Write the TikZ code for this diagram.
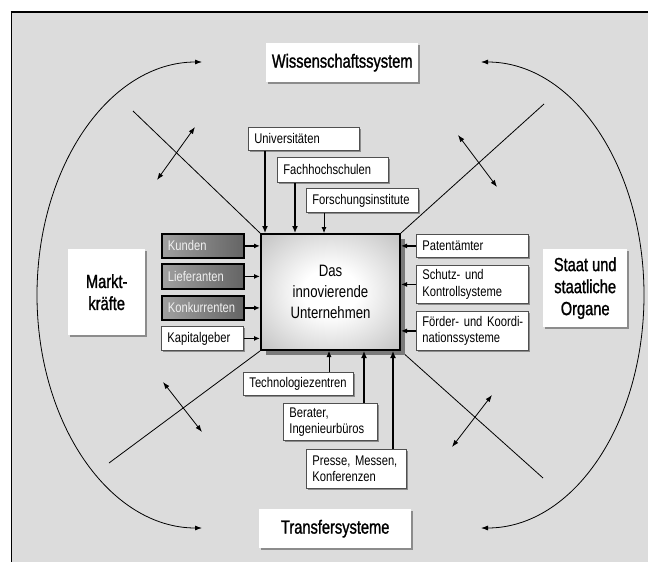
\documentclass[tikz,border=0pt]{standalone}
\usepackage{fontspec}
\setmainfont{Liberation Sans}[FakeStretch=0.8]
\newfontfamily\outerfont{Liberation Sans}[FakeStretch=0.77,FakeBold=1.2]
\usetikzlibrary{arrows.meta,shadows,backgrounds}
\definecolor{bg}{HTML}{DCDCDC}
\definecolor{edge}{HTML}{505050}
\definecolor{shd}{HTML}{8C8C8C}
\definecolor{dkA}{HTML}{A0A0A0}
\definecolor{dkB}{HTML}{646464}
\definecolor{ctrE}{HTML}{A0A0A0}
\definecolor{ctrC}{HTML}{888888}
\definecolor{ctrS}{HTML}{7A7A7A}
\pgfdeclareradialshading{ctrshade}{\pgfpoint{0bp}{0bp}}{color(0bp)=(white); color(10bp)=(white); color(50bp)=(ctrE); color(72bp)=(ctrC)}
\tikzset{
  sz/.style n args={3}{minimum width=#1pt, minimum height=#2pt, text width=#3pt},
  obox/.style={fill=white, draw=none, anchor=north west, inner sep=0pt, align=center,
    drop shadow={shadow xshift=2pt, shadow yshift=-2pt, fill=shd, opacity=1},
    font=\outerfont\fontsize{19}{22}\selectfont},
  wbox/.style={fill=white, draw=edge, line width=0.8pt, anchor=north west,
    inner xsep=6pt, inner ysep=0pt, align=left,
    drop shadow={shadow xshift=2pt, shadow yshift=-2pt, fill=shd, opacity=1},
    font=\fontsize{14}{16.5}\selectfont},
  dbox/.style={left color=dkA, right color=dkB, draw=black, line width=1.8pt, anchor=north west,
    inner xsep=6pt, inner ysep=0pt, align=left, text=white!94!black,
    font=\fontsize{14}{16.5}\selectfont},
  thin/.style={line width=0.8pt},
  arr/.style={line width=1.5pt, -{Latex[length=6pt,width=5pt]}},
  thinarr/.style={line width=0.8pt, -{Latex[length=6pt,width=5pt]}},
  thickarr/.style={line width=2pt, -{Latex[length=7pt,width=6pt]}},
  dblarr/.style={line width=0.8pt, {Latex[length=7pt,width=5pt]}-{Latex[length=7pt,width=5pt]}}
}
\begin{document}
\begin{tikzpicture}[x=1pt, y=-1pt]
\useasboundingbox (0,0) rectangle (648,562);
% outer boxes
\node[obox, minimum width=152pt, minimum height=39pt] (wiss) at (266,43) {Wissenschaftssystem};
\node[obox, minimum width=77pt, minimum height=86pt] (markt) at (68,249) {Markt-\\kräfte};
\node[obox, minimum width=84pt, minimum height=78pt] (staat) at (543,249) {Staat und\\staatliche\\Organe};
\node[obox, minimum width=152pt, minimum height=39pt] (trans) at (259,509) {Transfersysteme};
% centre
\node[draw=black, line width=2pt, shade, shading=ctrshade, anchor=north west, inner sep=0pt,
  drop shadow={shadow xshift=5pt, shadow yshift=-5pt, fill=ctrS, opacity=1},
  minimum width=139pt, minimum height=116pt, align=center,
  font=\fontsize{16.5}{21}\selectfont] (center) at (260,233) {Das\\innovierende\\Unternehmen};
% top boxes
\node[wbox, sz={111}{23}{99}] (univ) at (248,127) {Universitäten};
\node[wbox, sz={111}{25}{99}] (fach) at (277,157) {Fachhochschulen};
\node[wbox, sz={112}{24}{100}] (forsch) at (306,188) {Forschungsinstitute};
% left boxes
\node[dbox, sz={82}{24}{70}] (kunden) at (161,233) {Kunden};
\node[dbox, sz={82}{25}{70}] (liefer) at (161,263) {Lieferanten};
\node[dbox, sz={82}{24}{70}] (konk) at (161,295) {Konkurrenten};
\node[wbox, sz={82}{24}{70}] (kapital) at (161,326) {Kapitalgeber};
% right boxes
\node[wbox, sz={112}{23}{100}] (patent) at (416,234) {Patentämter};
\node[wbox, sz={112}{38}{100}] (schutz) at (416,265) {Schutz- und\\Kontrollsysteme};
\node[wbox, sz={112}{39}{100}] (foerder) at (416,311) {\mbox{Förder- und Koordi-}\\nationssysteme};
% bottom boxes
\node[wbox, sz={110}{23}{98}] (techno) at (243,372) {Technologiezentren};
\node[wbox, sz={94}{37}{82}] (berater) at (283,403) {Berater,\\Ingenieurbüros};
\node[wbox, sz={100}{39}{88}] (presse) at (306,449) {Presse, Messen,\\Konferenzen};
% helper coordinates
\coordinate (ux) at (265,0);
\coordinate (fx) at (295,0);
\coordinate (rx) at (324,0);
\coordinate (tx) at (329,0);
\coordinate (bx) at (364,0);
\coordinate (px) at (393,0);
\coordinate (dTL) at (133,111);
\coordinate (dTR) at (544,104);
\coordinate (dBL) at (109,463);
\coordinate (dBR) at (543,478);
\coordinate (aTL1) at (195,127); \coordinate (aTL2) at (157,180);
\coordinate (aTR1) at (458,135); \coordinate (aTR2) at (497,187);
\coordinate (aBL1) at (163,382); \coordinate (aBL2) at (202,432);
\coordinate (aBR1) at (492,395); \coordinate (aBR2) at (452,447);
\coordinate (cLT) at (202,62); \coordinate (cLM) at (37,295); \coordinate (cLB) at (202,528);
\coordinate (cRT) at (481,62); \coordinate (cRM) at (644,295); \coordinate (cRB) at (481,528);
\begin{pgfonlayer}{background}
  \fill[bg] (11,12) rectangle (648,562);
  \draw[line width=1pt] (11,562) -- (11,12);
  \draw[line width=2pt] (10.5,12) -- (648,12);
  \draw[dblarr] (cLT) .. controls (110,62) and (37,166) .. (cLM) .. controls (37,424) and (110,528) .. (cLB);
  \draw[dblarr] (cRT) .. controls (573,62) and (644,166) .. (cRM) .. controls (644,424) and (573,528) .. (cRB);
  \draw[thin] (dTL) -- (center.north west);
  \draw[thin] (dTR) -- (center.north east);
  \draw[thin] (dBL) -- (center.south west);
  \draw[thin] (dBR) -- (center.south east);
  \draw[dblarr] (aTL1) -- (aTL2);
  \draw[dblarr] (aTR1) -- (aTR2);
  \draw[dblarr] (aBL1) -- (aBL2);
  \draw[dblarr] (aBR1) -- (aBR2);
\end{pgfonlayer}
% connectors into the centre
\draw[thickarr] (univ.south -| ux) -- (center.north -| ux);
\draw[thickarr] (fach.south -| fx) -- (center.north -| fx);
\draw[thinarr] (forsch.south -| rx) -- (center.north -| rx);
\draw[arr] (kunden.east) -- (kunden.east -| center.west);
\draw[arr] (liefer.east) -- (liefer.east -| center.west);
\draw[arr] (konk.east) -- (konk.east -| center.west);
\draw[arr] (kapital.east) -- (kapital.east -| center.west);
\draw[arr] (patent.west) -- (patent.west -| center.east);
\draw[arr] (schutz.west) -- (schutz.west -| center.east);
\draw[arr] (foerder.west) -- (foerder.west -| center.east);
\draw[thinarr] (techno.north -| tx) -- (center.south -| tx);
\draw[thickarr] (berater.north -| bx) -- (center.south -| bx);
\draw[thickarr] (presse.north -| px) -- (center.south -| px);
\end{tikzpicture}
\end{document}
